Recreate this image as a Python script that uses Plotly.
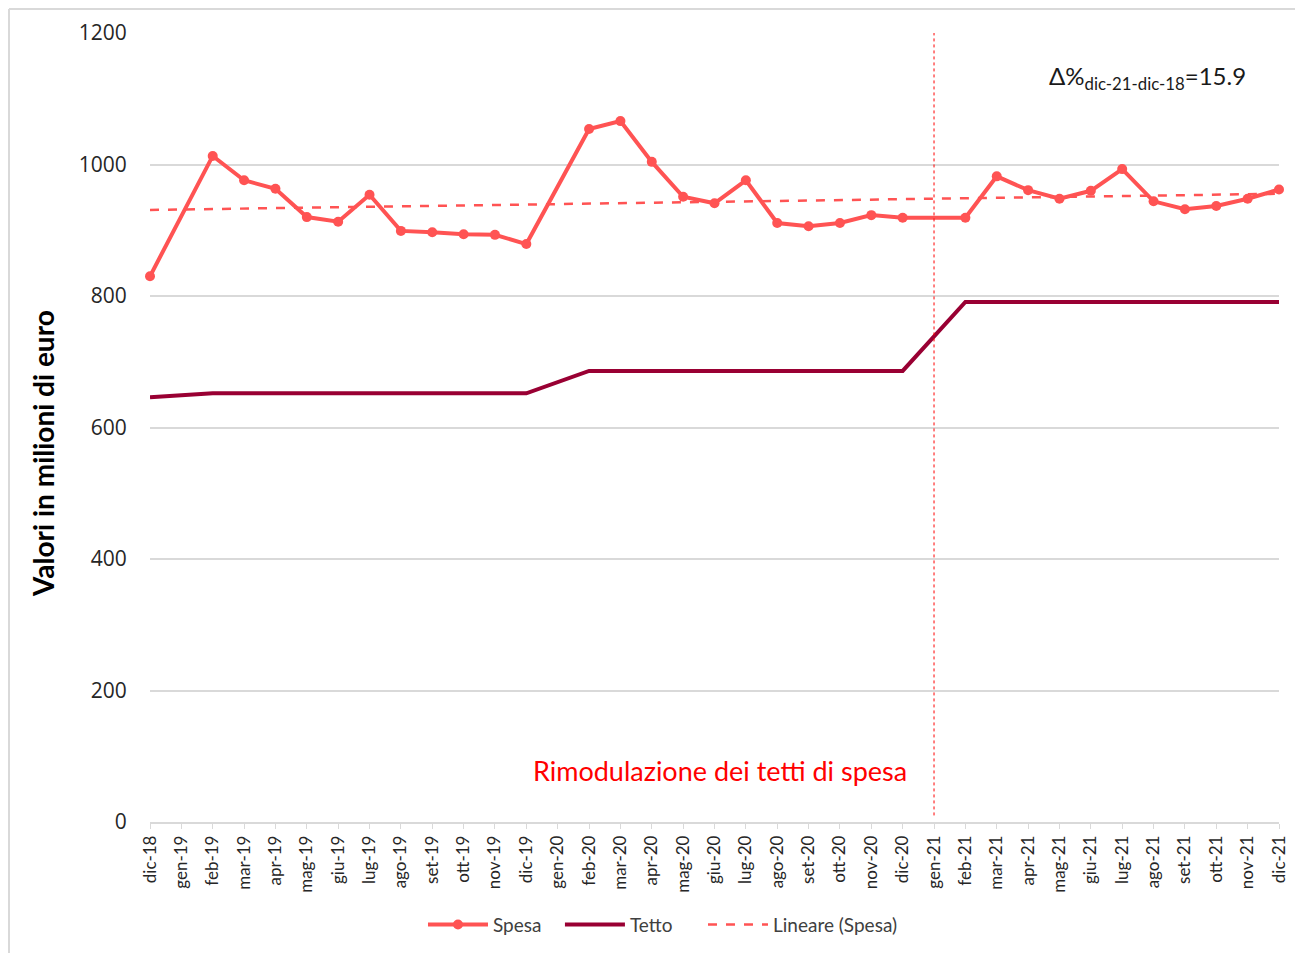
import numpy as np
import plotly.graph_objects as go

months = ["dic-18", "gen-19", "feb-19", "mar-19", "apr-19", "mag-19", "giu-19", "lug-19", "ago-19",
          "set-19", "ott-19", "nov-19", "dic-19", "gen-20", "feb-20", "mar-20", "apr-20", "mag-20",
          "giu-20", "lug-20", "ago-20", "set-20", "ott-20", "nov-20", "dic-20", "gen-21", "feb-21",
          "mar-21", "apr-21", "mag-21", "giu-21", "lug-21", "ago-21", "set-21", "ott-21", "nov-21", "dic-21"]

spesa = [830, None, 1013, 976, 963, 920, 913, 954, 899, 897, 894, 893, 879,
         None, 1054, 1066, 1004, 951, 941, 976, 911, 906, 911, 923, 919,
         None, 919, 982, 961, 948, 960, 993, 944, 932, 937, 948, 962]

tetto = [646, None, 652, 652, 652, 652, 652, 652, 652, 652, 652, 652, 652,
         None, 686, 686, 686, 686, 686, 686, 686, 686, 686, 686, 686,
         None, 791, 791, 791, 791, 791, 791, 791, 791, 791, 791, 791]

y_ticks = [0, 200, 400, 600, 800, 1000, 1200]

x_idx = list(range(len(months)))

# linear trend of Spesa
xs = np.array([i for i, v in zip(x_idx, spesa) if v is not None], dtype=float)
ys = np.array([v for v in spesa if v is not None], dtype=float)
slope, intercept = np.polyfit(xs, ys, 1)
trend = [slope * i + intercept for i in x_idx]

RED = "#FF5353"
DARK = "#990033"
FONT = "Lato"

fig = go.Figure()
fig.add_trace(go.Scatter(x=x_idx, y=spesa, name="Spesa", mode="lines+markers", connectgaps=True,
                         cliponaxis=False, legend="legend",
                         line=dict(color=RED, width=4), marker=dict(color=RED, size=10)))
fig.add_trace(go.Scatter(x=x_idx, y=tetto, name="Tetto", mode="lines", connectgaps=True,
                         legend="legend2", line=dict(color=DARK, width=4)))
fig.add_trace(go.Scatter(x=x_idx, y=trend, name="Lineare (Spesa)", mode="lines",
                         legend="legend3", line=dict(color=RED, width=2.5, dash="dash")))

# vertical dotted line at gen-21
fig.add_shape(type="line", xref="x", yref="y", x0=months.index("gen-21"), x1=months.index("gen-21"),
              y0=10, y1=1200, line=dict(color="#FF0000", width=1, dash="dot"))

# outer border (left, top, right)
bx0, bx1, by0, by1 = -0.1249, 1.0195, -0.17, 1.0304
border = dict(color="#D9D9D9", width=2)
fig.add_shape(type="line", xref="paper", yref="paper", x0=bx0, x1=bx0, y0=by0, y1=by1, line=border)
fig.add_shape(type="line", xref="paper", yref="paper", x0=bx0, x1=bx1, y0=by1, y1=by1, line=border)
fig.add_shape(type="line", xref="paper", yref="paper", x0=bx1, x1=bx1, y0=by0, y1=by1, line=border)

fig.add_annotation(x=18.18, y=78, xref="x", yref="y", text="Rimodulazione dei tetti di spesa",
                   showarrow=False, font=dict(family=FONT, size=27, color="#FF0000"))
fig.add_annotation(x=31.8, y=1132, xref="x", yref="y",
                   text="Δ%<sub>dic-21-dic-18</sub>=15.9",
                   showarrow=False, font=dict(family=FONT, size=24, color="#1a1a1a"))
fig.add_annotation(x=-0.0948, y=0.4677, xref="paper", yref="paper", textangle=-90,
                   xanchor="center", yanchor="middle",
                   text="<b>Valori in milioni di euro</b>", showarrow=False,
                   font=dict(family=FONT, size=28, color="black"))

leg_common = dict(orientation="h", xanchor="left", y=-0.13, yanchor="middle",
                  font=dict(family=FONT, size=19, color="#404040"), itemwidth=60,
                  bgcolor="rgba(0,0,0,0)")

fig.update_layout(
    width=1295, height=945,
    margin=dict(l=142, r=24, t=25, b=131, autoexpand=False),
    paper_bgcolor="white", plot_bgcolor="white",
    font=dict(family=FONT, color="#262626"),
    showlegend=True,
    legend=dict(x=0.2418, **leg_common),
    legend2=dict(x=0.3631, **leg_common),
    legend3=dict(x=0.4898, **leg_common),
    xaxis=dict(range=[0, 36], tickmode="array", tickvals=x_idx, ticktext=months, tickangle=-90,
               showgrid=False, zeroline=False, showline=True, linecolor="#D9D9D9", linewidth=1.5,
               ticks="outside", ticklen=5, tickcolor="#D9D9D9", automargin=False,
               tickfont=dict(family=FONT, size=17, color="#262626")),
    yaxis=dict(range=[0, 1200], tickmode="array", tickvals=y_ticks, showgrid=True,
               gridcolor="#D9D9D9", gridwidth=1.5, zeroline=False, showline=False,
               ticks="outside", ticklen=18, tickcolor="white", automargin=False,
               tickfont=dict(family="Open Sans", size=21, color="#262626")),
)

fig.write_html("out.html")
